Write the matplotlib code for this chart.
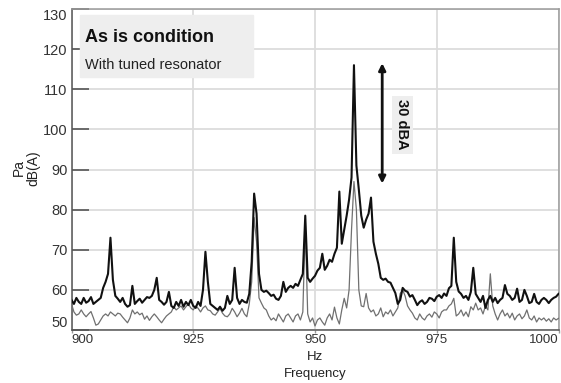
import numpy as np
import matplotlib
matplotlib.use("Agg")
import matplotlib.pyplot as plt

plt.rcParams['font.family'] = ['Liberation Sans', 'DejaVu Sans']

# Spectra on a 0.5 Hz grid, 900 .. 1000 Hz
freq_start, freq_step = 900.0, 0.5

as_is_db = [
    57.5, 56.5, 58.0, 57.0, 56.5, 58.0, 56.8, 57.2, 58.2, 56.5,
    57.0, 57.5, 58.0, 60.5, 62.0, 64.0, 73.0, 62.5, 58.5, 57.8,
    57.0, 58.0, 56.5, 55.8, 56.2, 61.0, 56.5, 57.2, 57.8, 56.8,
    57.5, 58.2, 58.0, 58.5, 60.0, 63.0, 57.5, 57.0, 56.3, 57.0,
    59.5, 56.0, 55.5, 57.0, 56.0, 57.5, 55.8, 57.0, 56.2, 57.5,
    56.0, 55.5, 57.0, 56.0, 60.0, 69.5, 62.0, 56.5, 56.0, 55.5,
    55.0, 55.8, 54.8, 55.5, 58.5, 56.5, 57.5, 65.5, 58.0, 56.5,
    57.5, 57.0, 56.8, 59.0, 67.0, 84.0, 79.0, 64.0, 60.0, 59.5,
    59.8, 59.2, 58.5, 58.8, 57.8, 57.5, 58.5, 62.0, 59.5, 60.5,
    61.0, 60.5, 61.5, 61.0, 62.5, 64.0, 78.5, 63.0, 62.0, 62.8,
    63.5, 64.8, 65.5, 69.0, 65.0, 66.0, 67.5, 67.0, 69.0, 70.5,
    84.5, 71.5, 75.0, 78.5, 82.5, 88.0, 116.0, 91.0, 85.0, 78.5,
    75.5, 77.5, 79.0, 83.0, 72.0, 69.0, 66.5, 63.0, 62.5, 62.8,
    62.0, 61.8, 60.5, 59.2, 56.5, 57.5, 60.5, 59.8, 59.5, 58.3,
    58.7, 57.5, 56.2, 57.0, 57.4, 56.5, 57.0, 58.0, 57.8, 57.2,
    58.3, 58.7, 58.0, 59.1, 58.5, 60.4, 61.0, 73.0, 62.0, 59.6,
    59.0, 58.0, 58.5, 57.5, 59.5, 65.5, 59.0, 58.0, 57.0, 58.5,
    55.5, 57.5, 58.5, 57.0, 58.0, 56.7, 57.5, 58.0, 61.2, 59.0,
    58.5, 57.5, 58.0, 60.3, 57.0, 57.5, 60.0, 58.5, 56.7, 57.0,
    59.0, 57.0, 56.5, 57.5, 58.0, 57.5, 56.7, 57.5, 58.0, 58.3,
    59.0,
]

tuned_db = [
    56.5, 54.5, 53.7, 54.0, 55.0, 54.0, 53.3, 54.0, 54.6, 53.0,
    51.2, 51.5, 52.5, 53.5, 54.0, 53.5, 54.5, 54.0, 53.5, 54.2,
    54.0, 53.2, 52.5, 51.8, 53.0, 55.0, 54.0, 54.5, 53.8, 54.2,
    52.7, 53.5, 52.4, 53.3, 54.0, 53.3, 52.5, 51.8, 52.7, 53.5,
    54.0, 54.5, 55.8, 55.0, 55.5, 56.0, 55.0, 55.8, 56.5, 55.5,
    55.0, 56.0, 55.4, 54.5, 55.5, 56.0, 55.0, 54.8, 54.0, 53.7,
    54.5, 55.4, 54.2, 53.5, 53.3, 54.0, 55.4, 54.5, 53.3, 54.2,
    55.4, 54.0, 53.3, 56.5, 62.0, 78.0, 72.0, 58.0, 56.7, 55.5,
    55.0, 53.5, 52.5, 53.0, 52.3, 54.0, 53.0, 52.0, 53.5, 54.0,
    53.0, 52.0, 53.5, 54.0, 52.5, 54.5, 76.0, 54.0, 52.0, 53.0,
    51.0, 52.5, 53.0, 52.0, 51.2, 53.0, 54.0, 52.5, 55.7, 53.0,
    51.5, 55.0, 57.9, 55.5, 60.0, 75.0, 87.0, 80.0, 60.0, 56.0,
    55.8, 59.1, 55.5, 54.5, 55.0, 53.5, 54.0, 55.5, 53.3, 54.5,
    54.0, 55.0, 53.5, 54.5, 55.5, 59.1, 60.0, 58.5, 56.0, 55.0,
    54.2, 53.0, 52.5, 54.0, 53.0, 52.5, 53.5, 54.0, 53.2, 54.5,
    54.0, 53.0, 54.5, 55.0, 55.0, 56.0, 56.5, 57.9, 53.5, 54.0,
    55.0, 53.5, 54.5, 53.3, 55.8, 55.0, 56.7, 55.0, 55.5, 54.0,
    56.0, 55.0, 64.0, 56.0, 54.0, 52.5, 54.0, 55.0, 53.5, 54.2,
    53.0, 54.2, 52.5, 53.5, 54.0, 52.8, 53.5, 55.0, 53.0, 52.5,
    53.5, 52.0, 53.0, 52.5, 53.0, 52.2, 52.8, 52.0, 53.0, 52.5,
    52.9,
]

x_ticks = [900, 925, 950, 975, 1000]
y_ticks = [50, 60, 70, 80, 90, 100, 110, 120, 130]

freq = freq_start + freq_step * np.arange(len(as_is_db))

W, H = 561, 383
fig = plt.figure(figsize=(W / 100, H / 100), dpi=100)
ax = fig.add_axes([71.5 / W, 1 - 330 / H, 487 / W, 321 / H])

ax.plot(freq, tuned_db, color='#707070', lw=0.9, zorder=3)
ax.plot(freq, as_is_db, color='#111111', lw=1.5, zorder=4)

ax.set_xlim(900, 1000)
ax.set_ylim(50, 130)
ax.set_xticks(x_ticks)
ax.set_yticks(y_ticks)
ax.grid(True, color='#dcdcdc', lw=1.3, zorder=0)
ax.set_axisbelow(True)

ax.tick_params(axis='y', direction='in', length=12, width=1.2, color='#555555',
               labelsize=10.5, labelcolor='#333333', pad=3)
ax.tick_params(axis='x', direction='out', length=2, width=1, color='#999999',
               labelsize=9.5, labelcolor='#333333', pad=1)

for lab in ax.get_yticklabels():
    if lab.get_text() == '130':
        lab.set_va('top')
    elif lab.get_text() == '50':
        lab.set_va('bottom')
xl = ax.get_xticklabels()
xl[0].set_ha('left')
xl[-1].set_ha('right')

for side in ('left', 'bottom'):
    ax.spines[side].set_color('#555555')
    ax.spines[side].set_linewidth(1.1)
for side in ('top', 'right'):
    ax.spines[side].set_color('#9a9a9a')
    ax.spines[side].set_linewidth(1.1)

# Legend-style caption box
fig.patches.append(plt.Rectangle((80 / W, 1 - 77 / H), 173 / W, 62 / H,
                                 transform=fig.transFigure, color='#eeeeee',
                                 zorder=5))
fig.text(85 / W, 1 - 38 / H, 'As is condition', fontsize=13, fontweight='bold',
         color='#111111', va='center', ha='left', zorder=6)
fig.text(85 / W, 1 - 65 / H, 'With tuned resonator', fontsize=10.5,
         color='#222222', va='center', ha='left', zorder=6)

# 30 dBA reduction marker
ax.annotate('', xy=(963.8, 116.5), xytext=(963.8, 86.5),
            arrowprops=dict(arrowstyle='<|-|>', color='#111111', lw=2,
                            mutation_scale=10, shrinkA=0, shrinkB=0),
            zorder=6)
ax.text(967.9, 101.2, '30 dBA', rotation=-90, fontsize=10.5, fontweight='bold',
        color='#111111', ha='center', va='center', zorder=6,
        bbox=dict(boxstyle='square,pad=0.25', fc='#eeeeee', ec='none'))

# Axis titles
fig.text(26 / W, 1 - 168 / H, 'Pa\ndB(A)', rotation=90, fontsize=10,
         color='#222222', ha='center', va='center', multialignment='center',
         linespacing=1.0)
fig.text(315 / W, 1 - 357 / H, 'Hz', fontsize=9.5, color='#222222',
         ha='center', va='center')
fig.text(315 / W, 1 - 374 / H, 'Frequency', fontsize=9.5, color='#222222',
         ha='center', va='center')

fig.savefig('out.png', dpi=100)
